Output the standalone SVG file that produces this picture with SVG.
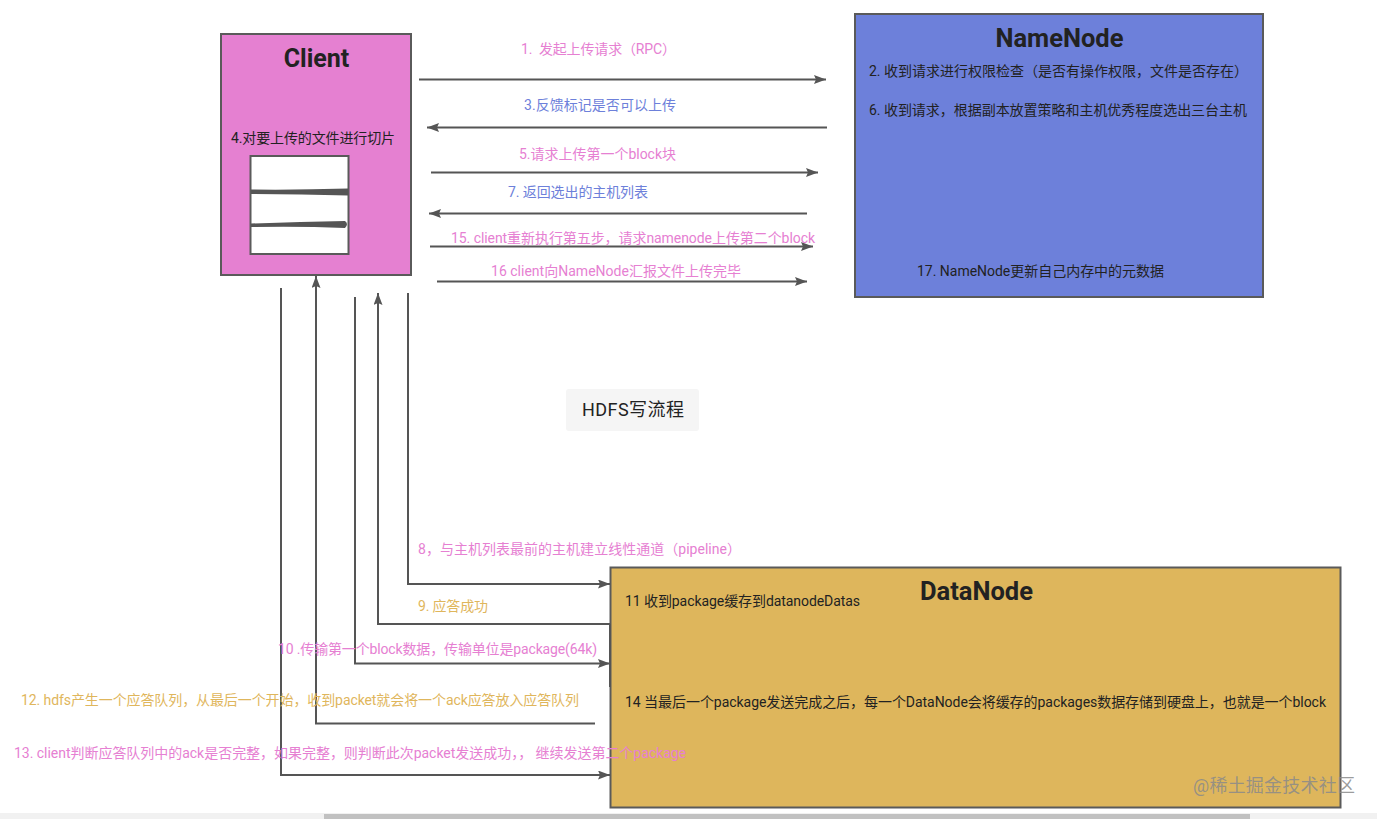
<svg xmlns="http://www.w3.org/2000/svg" width="1377" height="819" viewBox="0 0 1377 819">
<style>
text{font-family:Roboto,"Noto Sans CJK SC",sans-serif;font-size:14px;white-space:pre}
.n{fill:#222}
.t{font-size:25.500px;font-weight:700;text-anchor:middle;fill:#222}
.p{fill:#e680d2}
.b{fill:#6d80da}
.o{fill:#dfb65c}
.box{stroke:#5a5a5a;stroke-width:2}
.c{fill:none;stroke:#555;stroke-width:2}
.a{marker-end:url(#arr)}
</style>
<defs><marker id="arr" markerUnits="userSpaceOnUse" markerWidth="13" markerHeight="10" refX="12" refY="4.500" orient="auto"><path d="M0 0L12 4.500L0 9L2 4.500Z" fill="#555"/></marker></defs>
<rect width="1377" height="819" fill="#fff"/>
<g id="client">
<rect class="box" x="221" y="34" width="190" height="241" fill="#e580d1"/>
<text class="t" x="316.500" y="67" style="font-size:25px">Client</text>
<text class="n" x="231" y="143" textLength="164">4.对要上传的文件进行切片</text>
<rect class="box" x="250.500" y="156" width="98" height="98" fill="#fff"/>
<path d="M251 189.500Q300 190 348 188.500V195.500Q300 194 251 194Z" fill="#555"/>
<path d="M251 223.500Q300 222 345 221Q349 224 345 228Q300 226 251 227Z" fill="#555"/>
</g>
<g id="namenode">
<rect class="box" x="855" y="14" width="408" height="283" fill="#6d80da"/>
<text class="t" x="1059.500" y="47">NameNode</text>
<text class="n" x="869" y="76">2. 收到请求进行权限检查（是否有操作权限，文件是否存在）</text>
<text class="n" x="869" y="115" textLength="378">6. 收到请求，根据副本放置策略和主机优秀程度选出三台主机</text>
<text class="n" x="917" y="276" textLength="247">17. NameNode更新自己内存中的元数据</text>
</g>
<g id="datanode">
<rect class="box" x="610.500" y="567.500" width="730" height="240" fill="#deb65c"/>
<text class="t" x="976.500" y="600">DataNode</text>
<text class="n" x="625" y="606" textLength="235">11 收到package缓存到datanodeDatas</text>
<text class="n" x="625" y="707" textLength="701">14 当最后一个package发送完成之后，每一个DataNode会将缓存的packages数据存储到硬盘上，也就是一个block</text>
</g>
<g id="title">
<rect x="566" y="389" width="133" height="42" rx="3" fill="#f5f5f5"/>
<text x="582" y="416" style="font-size:18px" textLength="102" fill="#222">HDFS写流程</text>
</g>
<g id="connectors">
<path class="c a" d="M419 79.500H826"/>
<path class="c a" d="M827 127.500H427"/>
<path class="c a" d="M431 172.500H818"/>
<path class="c a" d="M807 213.500H429"/>
<path class="c a" d="M430 246.500H813"/>
<path class="c a" d="M437 281.500H807"/>
<path class="c a" d="M408 293V584H610"/>
<path class="c a" d="M610 624H378V293"/>
<path class="c a" d="M355 297V663.500H610"/>
<path class="c a" d="M595 723.500H316V276"/>
<path class="c a" d="M281 288V775H610"/>
<path class="c" d="M610 624V687"/>
</g>
<g id="labels">
<text class="p" x="521" y="54" textLength="155">1.  发起上传请求（RPC）</text>
<text class="b" x="524" y="110" textLength="152">3.反馈标记是否可以上传</text>
<text class="p" x="519" y="159" textLength="157">5.请求上传第一个block块</text>
<text class="b" x="508" y="197" textLength="140">7. 返回选出的主机列表</text>
<text class="p" x="451" y="243" textLength="364">15. client重新执行第五步，请求namenode上传第二个block</text>
<text class="p" x="491" y="276" textLength="250">16 client向NameNode汇报文件上传完毕</text>
<text class="p" x="418" y="554" textLength="323">8，与主机列表最前的主机建立线性通道（pipeline）</text>
<text class="o" x="418" y="611" textLength="70">9. 应答成功</text>
<text class="p" x="278" y="654" textLength="319">10 .传输第一个block数据，传输单位是package(64k)</text>
<text class="o" x="21" y="705" textLength="558">12. hdfs产生一个应答队列，从最后一个开始，收到packet就会将一个ack应答放入应答队列</text>
<text class="p" x="14" y="758" textLength="672">13. client判断应答队列中的ack是否完整，如果完整，则判断此次packet发送成功，， 继续发送第二个package</text>
<text x="1193" y="792" style="font-size:18px" textLength="162" fill="#8a8a8a" fill-opacity=".85">@稀土掘金技术社区</text>
</g>
<g id="scrollbar">
<rect y="813" width="1377" height="6" fill="#f1f1f1"/>
<rect x="324" y="814" width="926" height="5" fill="#c1c1c1"/>
</g>
</svg>
